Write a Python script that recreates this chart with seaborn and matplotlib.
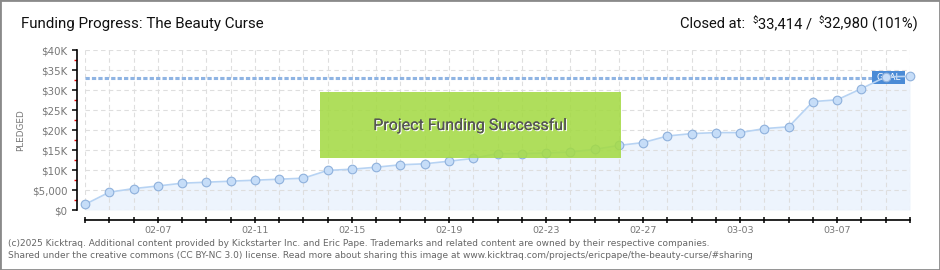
import matplotlib
matplotlib.use("Agg")
import matplotlib.pyplot as plt
import matplotlib.patheffects as pe
from matplotlib.patches import Rectangle
import pandas as pd
import seaborn as sns

# ---------------- data ----------------
dates = ["2025-02-04", "2025-02-05", "2025-02-06", "2025-02-07", "2025-02-08",
         "2025-02-09", "2025-02-10", "2025-02-11", "2025-02-12", "2025-02-13",
         "2025-02-14", "2025-02-15", "2025-02-16", "2025-02-17", "2025-02-18",
         "2025-02-19", "2025-02-20", "2025-02-21", "2025-02-22", "2025-02-23",
         "2025-02-24", "2025-02-25", "2025-02-26", "2025-02-27", "2025-02-28",
         "2025-03-01", "2025-03-02", "2025-03-03", "2025-03-04", "2025-03-05",
         "2025-03-06", "2025-03-07", "2025-03-08", "2025-03-09", "2025-03-10"]
pledged = [1400, 4450, 5350, 6000, 6700, 6950, 7200, 7450, 7700, 7950,
           9900, 10200, 10700, 11300, 11550, 12200, 12900, 14100, 14100, 14250,
           14500, 15150, 16150, 16850, 18500, 19100, 19350, 19350, 20350, 20800,
           27100, 27550, 30350, 33300, 33414]
goal = 32980
total = 33414
percent = 101
title = "Funding Progress: The Beauty Curse"
ytick_values = [0, 5000, 10000, 15000, 20000, 25000, 30000, 35000, 40000]
ytick_labels = ["$0", "$5,000", "$10K", "$15K", "$20K", "$25K", "$30K", "$35K", "$40K"]
xlabel_every = 4
xlabel_offset = 3
success_text = "Project Funding Successful"
footer_lines = [
    "(c)2025 Kicktraq. Additional content provided by Kickstarter Inc. and Eric Pape. Trademarks and related content are owned by their respective companies.",
    "Shared under the creative commons (CC BY-NC 3.0) license. Read more about sharing this image at www.kicktraq.com/projects/ericpape/the-beauty-curse/#sharing",
]

# ---------------- style ----------------
sns.set_theme(style="white")
plt.rcParams["font.family"] = ["DejaVu Sans"]

W, H = 940, 270
fig = plt.figure(figsize=(W / 100, H / 100), dpi=100)
fig.patch.set_facecolor("white")

def fx(px):
    return px / W

def fy(py):
    return 1 - py / H

ax_l, ax_r, ax_t, ax_b = 85, 910, 50, 210
ax = fig.add_axes([fx(ax_l), fy(ax_b), (ax_r - ax_l) / W, (ax_b - ax_t) / H])
ax.set_facecolor("white")

df = pd.DataFrame({"date": pd.to_datetime(dates), "pledged": pledged})

ax.fill_between(df["date"], df["pledged"], 0, color="#edf4fd", zorder=1, lw=0)
sns.lineplot(data=df, x="date", y="pledged", ax=ax, color="#b7d3f3", lw=1.2,
             marker="o", markersize=6.2, markerfacecolor="#c6ddf8",
             markeredgecolor="#8fb1dc", markeredgewidth=0.8, zorder=4,
             clip_on=False)

ax.set_xlim(df["date"].iloc[0], df["date"].iloc[-1])
ax.set_ylim(0, 40000)
ax.set_xlabel("")
ax.set_ylabel("")

# grid
ax.set_axisbelow("line")
ax.set_xticks(df["date"])
xl = [d.strftime("%m-%d") if (i - xlabel_offset) % xlabel_every == 0 else ""
      for i, d in enumerate(df["date"])]
ax.set_xticklabels(xl)
ax.set_yticks(ytick_values)
ax.set_yticklabels(ytick_labels)
ax.set_yticks([2500 + 5000 * k for k in range(8)], minor=True)
ax.grid(True, which="major", color="#dedede", linestyle=(0, (4, 3)), lw=0.8)

for s in ["top", "right"]:
    ax.spines[s].set_visible(False)
ax.spines["left"].set_position(("outward", 5.8))
ax.spines["bottom"].set_position(("outward", 7.2))
for s in ["left", "bottom"]:
    ax.spines[s].set_color("black")
    ax.spines[s].set_linewidth(1.2)

ax.tick_params(axis="y", which="major", direction="out", length=3.8, width=1.1,
               color="black", labelsize=7.4, labelcolor="#777777", pad=3, left=True)
ax.tick_params(axis="y", which="minor", direction="out", length=2.4, width=1.0,
               color="#ee0000", left=True)
ax.tick_params(axis="x", which="major", direction="inout", length=4, width=1.1,
               color="black", labelsize=6.8, labelcolor="#777777", pad=2, bottom=True)

# goal line + label
ytr = ax.get_yaxis_transform()
goal_end = (872 - ax_l) / (ax_r - ax_l)
ax.plot([0, goal_end], [goal, goal], transform=ytr, color="#8fb4e3", lw=2.2,
        linestyle=(0, (1.4, 0.7)), zorder=3, clip_on=False)
gx0 = (872 - ax_l) / (ax_r - ax_l)
gx1 = (905 - ax_l) / (ax_r - ax_l)
gy0 = (ax_b - 84) / (ax_b - ax_t)
gy1 = (ax_b - 71) / (ax_b - ax_t)
ax.add_patch(Rectangle((gx0, gy0), gx1 - gx0, gy1 - gy0, transform=ax.transAxes,
                       facecolor="#4a8bd6", edgecolor="none", zorder=3.5, clip_on=False))
ax.text((gx0 + gx1) / 2, (gy0 + gy1) / 2, "GOAL", transform=ax.transAxes,
        color="white", fontsize=6.3, ha="center", va="center", zorder=3.6,
        family=["DejaVu Sans"])

# success box
bx0 = (320 - ax_l) / (ax_r - ax_l)
bx1 = (621 - ax_l) / (ax_r - ax_l)
by0 = (ax_b - 158) / (ax_b - ax_t)
by1 = (ax_b - 92) / (ax_b - ax_t)
ax.add_patch(Rectangle((bx0, by0), bx1 - bx0, by1 - by0, transform=ax.transAxes,
                       facecolor="#a4da45", alpha=0.88, edgecolor="none", zorder=5,
                       clip_on=False))
ax.text((bx0 + bx1) / 2, (by0 + by1) / 2, success_text, transform=ax.transAxes,
        color="#555555", fontsize=11.5, ha="center", va="center", zorder=6,
        family=["Roboto", "DejaVu Sans"],
        path_effects=[pe.withSimplePatchShadow(offset=(0.8, -0.8),
                                               shadow_rgbFace="white", alpha=1.0),
                      pe.Normal()])

# PLEDGED label
fig.text(fx(21), fy(130), "PLEDGED", rotation=90, ha="center", va="center",
         fontsize=6.4, color="#777777")

# title
fig.text(fx(21), fy(24), title, ha="left", va="center", fontsize=10.9,
         color="#111111", family=["Roboto", "DejaVu Sans"])

# closed at (right-aligned, pieces drawn right to left)
renderer = fig.canvas.get_renderer()
pieces = [("Closed at:  ", 10.6, 0), ("$", 6.8, 3), ("33,414 /  ", 10.6, 0),
          ("$", 6.8, 3), ("32,980 (101%)", 10.6, 0)]
x_right = 918
for txt, size, rise in reversed(pieces):
    t = fig.text(fx(x_right), fy(24 - rise), txt, ha="right", va="center",
                 fontsize=size, color="#111111", family=["Roboto", "DejaVu Sans"])
    bb = t.get_window_extent(renderer)
    x_right -= bb.width

# footer
for i, line in enumerate(footer_lines):
    fig.text(fx(8), fy(243 + 13 * i), line, ha="left", va="center",
             fontsize=6.5, color="#666666")

# frame
fig.add_artist(Rectangle((0, 0), 1, 1, transform=fig.transFigure, fill=False,
                         edgecolor="#8a8a8a", lw=2.0))

fig.savefig("out.png", dpi=100)
